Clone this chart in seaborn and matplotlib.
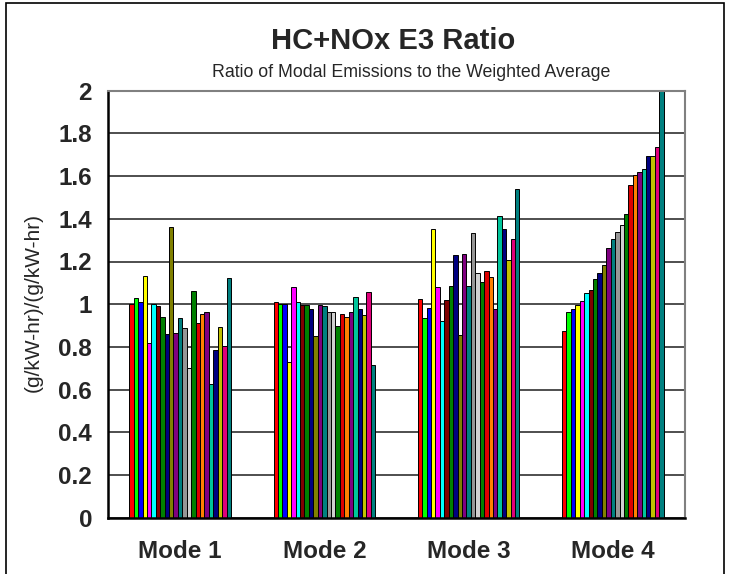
import matplotlib
matplotlib.use("Agg")
import matplotlib.pyplot as plt
import matplotlib.patches as mpatches
import seaborn as sns
import pandas as pd

modes = ["Mode 1", "Mode 2", "Mode 3", "Mode 4"]
series = [f"S{i+1}" for i in range(23)]

mode1 = [1.00, 1.03, 1.01, 1.13, 0.82, 1.00, 0.99, 0.94, 0.86, 1.36, 0.865, 0.935,
         0.887, 0.70, 1.06, 0.913, 0.954, 0.962, 0.626, 0.784, 0.891, 0.804, 1.121]
mode2 = [1.01, 1.00, 1.00, 0.728, 1.079, 1.009, 0.996, 0.995, 0.976, 0.852, 0.995, 0.99,
         0.962, 0.962, 0.90, 0.954, 0.94, 0.962, 1.032, 0.976, 0.949, 1.059, 0.714]
mode3 = [1.023, 0.934, 0.982, 1.352, 1.079, 0.92, 1.018, 1.085, 1.23, 0.857, 1.237, 1.085,
         1.332, 1.148, 1.105, 1.154, 1.126, 0.976, 1.415, 1.352, 1.207, 1.304, 1.539]
mode4 = [0.873, 0.962, 0.976, 0.995, 1.016, 1.051, 1.065, 1.119, 1.148, 1.182, 1.263, 1.304,
         1.338, 1.372, 1.421, 1.558, 1.605, 1.619, 1.633, 1.696, 1.696, 1.736, 2.0]

colors = ["#FF0000", "#00FF00", "#0000FF", "#FFFF00", "#FF00FF", "#00FFFF", "#800000",
          "#008000", "#000080", "#808000", "#800080", "#008080", "#969696", "#D0D0D0",
          "#008000", "#DD0000", "#FF8000", "#800080", "#00C49A", "#000080", "#C0C000",
          "#E0007A", "#008080"]

ticks = [0, 0.2, 0.4, 0.6, 0.8, 1, 1.2, 1.4, 1.6, 1.8, 2]
tick_labels = ["0", "0.2", "0.4", "0.6", "0.8", "1", "1.2", "1.4", "1.6", "1.8", "2"]

rows = []
for m, vals in zip(modes, [mode1, mode2, mode3, mode4]):
    for s, v in zip(series, vals):
        rows.append({"mode": m, "series": s, "value": v})
df = pd.DataFrame(rows)

sns.set_style("white")
plt.rcParams["font.family"] = ["Liberation Sans", "DejaVu Sans"]

fig = plt.figure(figsize=(7.29, 5.74), dpi=100)
ax = fig.add_axes([108/729, 1-517.7/574, (685-108)/729, (517.7-90.7)/574])

sns.barplot(data=df, x="mode", y="value", hue="series", order=modes,
            hue_order=series, palette=colors, width=0.705, ax=ax,
            edgecolor="black", linewidth=0.7, legend=False, errorbar=None,
            saturation=1)

ax.set_ylim(0, 2)
ax.set_xlim(-0.5, 3.5)
ax.set_yticks(ticks)
ax.set_yticklabels(tick_labels, fontsize=17.5, fontweight="bold")
ax.set_xticks(range(4))
ax.set_xticklabels(modes, fontsize=17.5, fontweight="bold")
ax.tick_params(axis="y", length=0, pad=11.5)
ax.tick_params(axis="x", length=0, pad=16)
ax.set_xlabel("")
ax.set_ylabel("")
ax.yaxis.grid(True, color="#303030", linewidth=1.2)
ax.set_axisbelow(True)

for side in ["left", "bottom"]:
    ax.spines[side].set_color("black")
    ax.spines[side].set_linewidth(1.8)
for side in ["top", "right"]:
    ax.spines[side].set_color("#808080")
    ax.spines[side].set_linewidth(1.5)
    ax.spines[side].set_visible(True)

fig.text(33/729, 1-302/574, "(g/kW-hr)/(g/kW-hr)", rotation=90, ha="center",
         va="center", fontsize=15)
fig.text(393.5/729, 1-49/574, "HC+NOx E3 Ratio", ha="center", va="baseline",
         fontsize=21, fontweight="bold")
fig.text(411/729, 1-77/574, "Ratio of Modal Emissions to the Weighted Average",
         ha="center", va="baseline", fontsize=12.75)

border = mpatches.Rectangle((6/729, -0.05), (724-6)/729, 1.05-3/574,
                            transform=fig.transFigure, fill=False,
                            edgecolor="black", linewidth=1.2)
fig.patches.append(border)

fig.savefig("out.png", dpi=100)
